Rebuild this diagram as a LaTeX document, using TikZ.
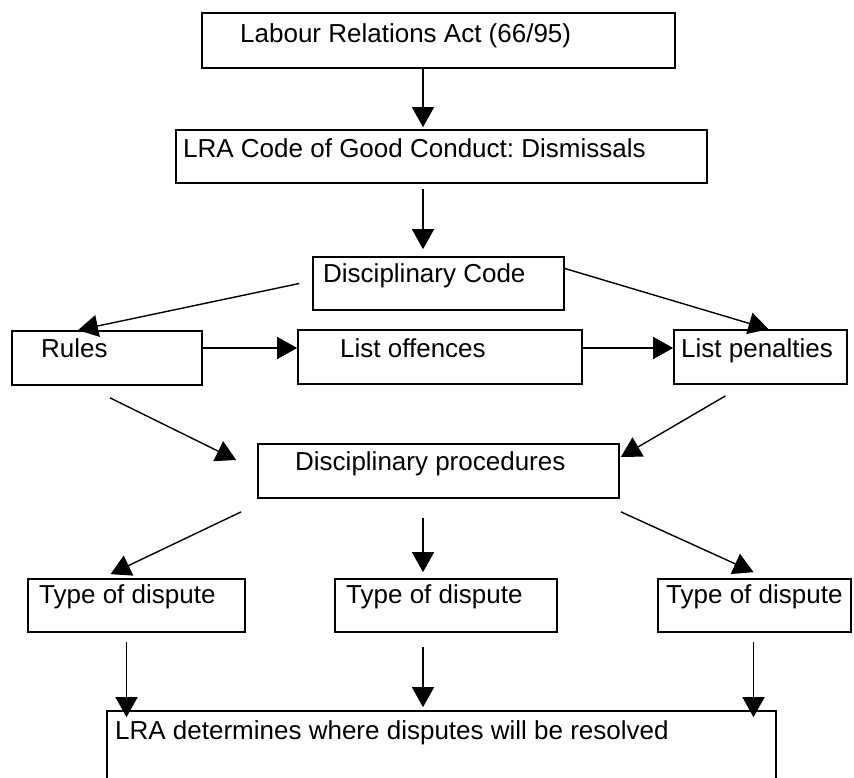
\documentclass[tikz,border=0pt]{standalone}
\usepackage{fontspec}
\setmainfont{Liberation Sans}
\usepackage{tikz}
\usetikzlibrary{arrows.meta, calc}
\frenchspacing

\tikzset{
  box/.style={draw, rectangle, line width=1.7pt, inner sep=0pt},
  lbl/.style={anchor=base west, inner sep=0pt, font=\fontsize{26}{30}\selectfont},
  arr/.style={-{Triangle[length=20pt,width=22pt]}, line width=1.4pt}
}

\begin{document}
\begin{tikzpicture}[x=1pt, y=-1pt]
        \useasboundingbox (0,0) rectangle (854,777);
        \clip (0,0) rectangle (854,777);
        \coordinate (spine) at (423,0);
        % Boxes
        \node[box, minimum width=473pt, minimum height=55pt] (act) at (438.5,40.5) {};
        \node[box, minimum width=531pt, minimum height=53pt] (conduct) at (441.5,156.5) {};
        \node[box, minimum width=251pt, minimum height=53pt] (code) at (438.5,283.5) {};
        \node[box, minimum width=190pt, minimum height=54pt] (rules) at (107,358) {};
        \node[box, minimum width=284pt, minimum height=54pt] (offences) at (440,357) {};
        \node[box, minimum width=173pt, minimum height=54pt] (penalties) at (760.5,357) {};
        \node[box, minimum width=361pt, minimum height=54pt] (proc) at (438.5,471) {};
        \node[box, minimum width=217pt, minimum height=53pt] (type1) at (136.5,605.5) {};
        \node[box, minimum width=222pt, minimum height=53pt] (type2) at (446,605.5) {};
        \node[box, minimum width=193pt, minimum height=53pt] (type3) at (754.5,605.5) {};
        \node[box, minimum width=669pt, minimum height=89pt] (final) at (441.5,755.5) {};
        % Labels in the boxes
        \node[lbl] (act-t) at (240,42) {Labour Relations Act (66/95)};
        \node[lbl] (conduct-t) at (183,157) {LRA Code of Good Conduct: Dismissals};
        \node[lbl] (code-t) at (323,282) {Disciplinary Code};
        \node[lbl] (rules-t) at (41,357) {Rules};
        \node[lbl] (offences-t) at (340,357) {List offences};
        \node[lbl] (penalties-t) at (681,357) {List penalties};
        \node[lbl] (proc-t) at (295,470) {Disciplinary procedures};
        \node[lbl] (type1-t) at (39,603) {Type of dispute};
        \node[lbl] (type2-t) at (346,603) {Type of dispute};
        \node[lbl] (type3-t) at (666,603) {Type of dispute};
        \node[lbl] (final-t) at (115,739) {LRA determines where disputes will be resolved};
        % Arrows down the middle
        \draw[arr, shorten >=2pt] (act.south -| spine) -- (conduct.north -| spine);
        \draw[arr, shorten <=5pt, shorten >=7pt] (conduct.south -| spine) -- (code.north -| spine);
        % Code to rules and penalties
        \draw[arr] ($(code.west)+(-13,0)$) -- ($(rules.north)+(-29,0)$);
        \draw[arr] ($(code.east)+(0,-15)$) -- ($(penalties.north)+(8,0)$);
        \draw[arr] ($(rules.east)+(0,-10)$) -- ($(offences.west)+(0,-9)$);
        \draw[arr] ($(offences.east)+(0,-9)$) -- ($(penalties.west)+(0,-9)$);
        % Into the procedures
        \draw[arr] ($(rules.south)+(3,12)$) -- ($(proc.west)+(-21,-11)$);
        \draw[arr] ($(penalties.south)+(-35,11)$) -- ($(proc.east)+(1,-14)$);
        % Out to the types of dispute
        \draw[arr] ($(proc.south west)+(-16,13)$) -- ($(type1.north)+(-26,-4)$);
        \draw[arr, shorten <=19pt, shorten >=6pt] (proc.south -| spine) -- (type2.north -| spine);
        \draw[arr] ($(proc.south east)+(1,13)$) -- ($(type3.north)+(-1,-6)$);
        % Down to the last box
        \coordinate (d1) at ($(type1.south)+(-10,0)$);
        \coordinate (d3) at ($(type3.south)+(-1,0)$);
        \draw[arr, shorten <=9pt, shorten >=-7pt] (d1) -- (d1 |- final.north);
        \draw[arr, shorten <=14pt, shorten >=3pt] (type2.south -| spine) -- (final.north -| spine);
        \draw[arr, shorten <=9pt, shorten >=-7pt] (d3) -- (d3 |- final.north);
\end{tikzpicture}
\end{document}
